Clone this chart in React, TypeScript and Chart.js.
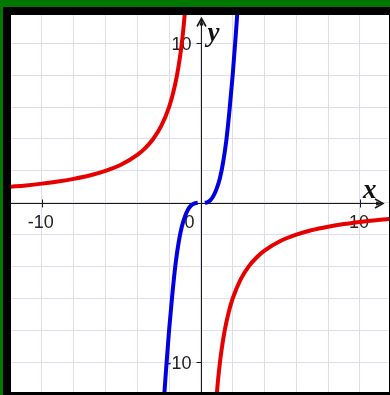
import React, { useEffect, useRef } from "react";
import { Chart, registerables } from "chart.js";

Chart.register(...registerables);

// Red curve, left branch
const redLeftX = [-12, -11, -10, -9, -8, -7, -6, -5, -4, -3.5, -3, -2.5, -2, -1.75, -1.5, -1.3, -1.15, -1.05, -0.95];
const redLeftY = [1.0, 1.09, 1.2, 1.33, 1.5, 1.71, 2.0, 2.4, 3.0, 3.43, 4.0, 4.8, 6.0, 6.86, 8.0, 9.23, 10.43, 11.43, 12.63];
// Red curve, right branch
const redRightX = [0.95, 1.05, 1.15, 1.3, 1.5, 1.75, 2, 2.5, 3, 3.5, 4, 5, 6, 7, 8, 9, 10, 11, 12];
const redRightY = [-12.63, -11.43, -10.43, -9.23, -8.0, -6.86, -6.0, -4.8, -4.0, -3.43, -3.0, -2.4, -2.0, -1.71, -1.5, -1.33, -1.2, -1.09, -1.0];
// Blue curve, left piece
const blueLeftX = [-2.4, -2.3, -2.2, -2.1, -2.0, -1.8, -1.6, -1.4, -1.2, -1.0, -0.8, -0.6, -0.4, -0.2];
const blueLeftY = [-13.2, -12.0, -10.6, -9.3, -8.0, -5.8, -3.9, -2.5, -1.5, -0.85, -0.4, -0.15, -0.03, 0];
// Blue curve, right piece
const blueRightX = [0.25, 0.4, 0.6, 0.8, 1.0, 1.2, 1.4, 1.6, 1.8, 2.0, 2.1, 2.2, 2.3, 2.4];
const blueRightY = [0, 0.03, 0.17, 0.45, 0.9, 1.55, 2.55, 3.9, 5.8, 8.0, 9.3, 10.6, 12.0, 13.2];

// Axis tick labels
const xTickValues = [-10, 10];
const xTickLabels = ["-10", "10"];
const yTickValues = [10, -10];
const yTickLabels = ["10", "-10"];
const originLabel = "0";
const xAxisName = "x";
const yAxisName = "y";

const X_MIN = -11.94;
const X_MAX = 11.83;
const Y_MIN = -11.86;
const Y_MAX = 11.77;

const pts = (xs: number[], ys: number[]) => xs.map((x, i) => ({ x, y: ys[i] }));

const axesPlugin = {
  id: "mathAxes",
  beforeDatasetsDraw(chart: any) {
    const { ctx, chartArea, scales } = chart;
    const xs = scales.x;
    const ys = scales.y;
    const x0 = Math.round(xs.getPixelForValue(0)) + 0.5;
    const y0 = Math.round(ys.getPixelForValue(0)) + 0.5;
    ctx.save();
    ctx.strokeStyle = "#1a1a1a";
    ctx.fillStyle = "#1a1a1a";
    ctx.lineWidth = 1;
    ctx.beginPath();
    ctx.moveTo(chartArea.left, y0);
    ctx.lineTo(chartArea.right - 7, y0);
    ctx.moveTo(x0, chartArea.bottom);
    ctx.lineTo(x0, chartArea.top + 4);
    xTickValues.forEach((v) => {
      const px = Math.round(xs.getPixelForValue(v)) + 0.5;
      ctx.moveTo(px, y0 - 4);
      ctx.lineTo(px, y0 + 4);
    });
    yTickValues.forEach((v) => {
      const py = Math.round(ys.getPixelForValue(v)) + 0.5;
      ctx.moveTo(x0 - 5, py);
      ctx.lineTo(x0, py);
    });
    ctx.stroke();

    // arrow heads
    ctx.lineWidth = 1.6;
    ctx.beginPath();
    const tipY = chartArea.top + 3.5;
    ctx.moveTo(x0 - 4.5, tipY + 8);
    ctx.lineTo(x0, tipY);
    ctx.lineTo(x0 + 4.5, tipY + 8);
    const tipX = chartArea.right - 6;
    ctx.moveTo(tipX - 8, y0 - 4.5);
    ctx.lineTo(tipX, y0);
    ctx.lineTo(tipX - 8, y0 + 4.5);
    ctx.stroke();
    ctx.beginPath();
    ctx.moveTo(x0, tipY);
    ctx.lineTo(x0 - 2, tipY + 7);
    ctx.lineTo(x0 + 2, tipY + 7);
    ctx.closePath();
    ctx.moveTo(tipX, y0);
    ctx.lineTo(tipX - 7, y0 - 2);
    ctx.lineTo(tipX - 7, y0 + 2);
    ctx.closePath();
    ctx.fill();

    // numeric labels
    ctx.fillStyle = "#222";
    ctx.font = '18px "Liberation Sans", Arial, sans-serif';
    ctx.textBaseline = "alphabetic";
    ctx.textAlign = "center";
    xTickValues.forEach((v, i) => {
      ctx.fillText(xTickLabels[i], xs.getPixelForValue(v) - 1, y0 + 24);
    });
    ctx.textAlign = "right";
    yTickValues.forEach((v, i) => {
      ctx.fillText(yTickLabels[i], x0 - 10, ys.getPixelForValue(v) + 7);
    });
    ctx.fillText(originLabel, x0 - 7, y0 + 24);

    // axis names
    ctx.font = 'italic bold 27px "Liberation Serif", "Times New Roman", serif';
    ctx.textAlign = "left";
    ctx.fillStyle = "#111";
    ctx.fillText(xAxisName, chartArea.right - 26, y0 - 6);
    ctx.fillText(yAxisName, x0 + 6, chartArea.top + 26);
    ctx.restore();
  },
};

export default function App() {
  const ref = useRef<HTMLCanvasElement | null>(null);
  useEffect(() => {
    if (!ref.current) return;
    const red = "#e60000";
    const blue = "#0000e0";
    const mk = (data: any, color: string) => ({
      data,
      borderColor: color,
      backgroundColor: color,
      borderWidth: 4,
      pointRadius: 0,
      showLine: true,
      fill: false,
      cubicInterpolationMode: "monotone" as const,
    });
    const chart = new Chart(ref.current, {
      type: "scatter",
      data: {
        datasets: [
          mk(pts(redLeftX, redLeftY), red),
          mk(pts(redRightX, redRightY), red),
          mk(pts(blueLeftX, blueLeftY), blue),
          mk(pts(blueRightX, blueRightY), blue),
        ],
      },
      options: {
        animation: false,
        responsive: false,
        maintainAspectRatio: false,
        layout: { padding: 0 },
        plugins: { legend: { display: false }, tooltip: { enabled: false } },
        scales: {
          x: {
            type: "linear",
            min: X_MIN,
            max: X_MAX,
            border: { display: false },
            grid: { color: "#e0dcef", lineWidth: 1, drawTicks: false },
            ticks: { display: false, stepSize: 2, includeBounds: false },
          },
          y: {
            type: "linear",
            min: Y_MIN,
            max: Y_MAX,
            border: { display: false },
            grid: { color: "#e0dcef", lineWidth: 1, drawTicks: false },
            ticks: { display: false, stepSize: 2, includeBounds: false },
          },
        },
      },
      plugins: [axesPlugin],
    });
    return () => chart.destroy();
  }, []);

  return (
    <div style={{ position: "fixed", left: 0, top: 0, width: 390, height: 395, background: "#007800", overflow: "hidden" }}>
      <div style={{ position: "absolute", left: 3, top: 7, width: 400, height: 400, background: "#000" }} />
      <canvas
        ref={ref}
        width={378}
        height={377}
        style={{ position: "absolute", left: 11, top: 15, width: 378, height: 377, background: "#fff" }}
      />
    </div>
  );
}
